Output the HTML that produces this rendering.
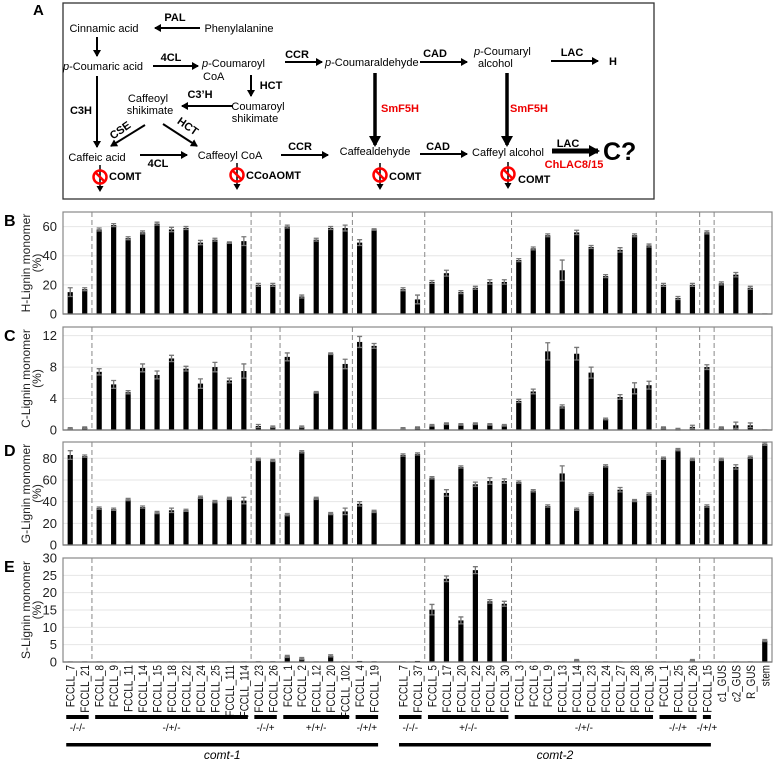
<!DOCTYPE html>
<html><head><meta charset="utf-8"><style>
html,body{margin:0;padding:0;background:#fff;}
svg{display:block;font-family:"Liberation Sans",sans-serif;}
</style></head><body>
<svg id="fig" width="773" height="760" viewBox="0 0 773 760" xmlns="http://www.w3.org/2000/svg">
<defs>
<marker id="ah" markerWidth="8" markerHeight="8" refX="6" refY="4" orient="auto" markerUnits="userSpaceOnUse"><path d="M0,0 L7,4 L0,8 z" fill="#000"/></marker>
<marker id="ahb" markerWidth="12" markerHeight="12" refX="9" refY="6" orient="auto" markerUnits="userSpaceOnUse"><path d="M0,0 L11,6 L0,12 z" fill="#000"/></marker>
</defs>
<g id="diagram" font-size="11">
<text x="33" y="15" font-size="15" font-weight="bold">A</text>
<rect x="63" y="3" width="591" height="196" fill="none" stroke="#333" stroke-width="1.3"/>
<g stroke="#000" stroke-width="2" fill="none">
<line x1="200" y1="28" x2="155" y2="28" marker-end="url(#ah)"/>
<line x1="97" y1="37" x2="97" y2="56" marker-end="url(#ah)"/>
<line x1="153" y1="66" x2="198" y2="66" marker-end="url(#ah)"/>
<line x1="285" y1="62" x2="322" y2="62" marker-end="url(#ah)"/>
<line x1="420" y1="62" x2="467" y2="62" marker-end="url(#ah)"/>
<line x1="551" y1="61" x2="598" y2="61" marker-end="url(#ah)"/>
<line x1="251" y1="75" x2="251" y2="96" marker-end="url(#ah)"/>
<line x1="233" y1="106" x2="182" y2="106" marker-end="url(#ah)"/>
<line x1="97" y1="76" x2="97" y2="147" marker-end="url(#ah)"/>
<line x1="145" y1="125" x2="111" y2="146" marker-end="url(#ah)"/>
<line x1="163" y1="124" x2="197" y2="146" marker-end="url(#ah)"/>
<line x1="140" y1="155" x2="187" y2="155" marker-end="url(#ah)"/>
<line x1="281" y1="155" x2="328" y2="155" marker-end="url(#ah)"/>
<line x1="420" y1="154" x2="467" y2="154" marker-end="url(#ah)"/>
<line x1="375" y1="73" x2="375" y2="145" stroke-width="3.5" marker-end="url(#ahb)"/>
<line x1="507" y1="73" x2="507" y2="145" stroke-width="3.5" marker-end="url(#ahb)"/>
<line x1="552" y1="151" x2="598" y2="151" stroke-width="5" marker-end="url(#ahb)"/>
</g>
<g fill="#000">
<text x="175" y="21" text-anchor="middle" font-weight="bold">PAL</text>
<text x="104" y="32" text-anchor="middle">Cinnamic acid</text>
<text x="239" y="32" text-anchor="middle">Phenylalanine</text>
<text x="103" y="70" text-anchor="middle"><tspan font-style="italic">p</tspan>-Coumaric acid</text>
<text x="171" y="61" text-anchor="middle" font-weight="bold">4CL</text>
<text x="202" y="67"><tspan font-style="italic">p</tspan>-Coumaroyl</text>
<text x="203" y="80">CoA</text>
<text x="297" y="58" text-anchor="middle" font-weight="bold">CCR</text>
<text x="325" y="66"><tspan font-style="italic">p</tspan>-Coumaraldehyde</text>
<text x="435" y="57" text-anchor="middle" font-weight="bold">CAD</text>
<text x="474" y="55"><tspan font-style="italic">p</tspan>-Coumaryl</text>
<text x="478" y="67">alcohol</text>
<text x="572" y="56" text-anchor="middle" font-weight="bold">LAC</text>
<text x="613" y="65" text-anchor="middle" font-weight="bold">H</text>
<text x="271" y="89" text-anchor="middle" font-weight="bold">HCT</text>
<text x="200" y="98" text-anchor="middle" font-weight="bold">C3’H</text>
<text x="148" y="102" text-anchor="middle">Caffeoyl</text>
<text x="150" y="114" text-anchor="middle">shikimate</text>
<text x="258" y="110" text-anchor="middle">Coumaroyl</text>
<text x="255" y="122" text-anchor="middle">shikimate</text>
<text x="81" y="114" text-anchor="middle" font-weight="bold">C3H</text>
<text x="120" y="134" text-anchor="middle" font-weight="bold" transform="rotate(-35 120 130)">CSE</text>
<text x="188" y="130" text-anchor="middle" font-weight="bold" transform="rotate(35 188 126)">HCT</text>
<text x="97" y="161" text-anchor="middle">Caffeic acid</text>
<text x="158" y="167" text-anchor="middle" font-weight="bold">4CL</text>
<text x="230" y="159" text-anchor="middle">Caffeoyl CoA</text>
<text x="300" y="150" text-anchor="middle" font-weight="bold">CCR</text>
<text x="375" y="155" text-anchor="middle">Caffealdehyde</text>
<text x="438" y="150" text-anchor="middle" font-weight="bold">CAD</text>
<text x="508" y="156" text-anchor="middle">Caffeyl alcohol</text>
<text x="381" y="112" fill="#e00" font-weight="bold">SmF5H</text>
<text x="510" y="112" fill="#e00" font-weight="bold">SmF5H</text>
<text x="568" y="147" text-anchor="middle" font-weight="bold">LAC</text>
<text x="574" y="168" text-anchor="middle" fill="#e00" font-weight="bold">ChLAC8/15</text>
<text x="603" y="160" font-size="25" font-weight="bold">C?</text>
</g>
<g id="knock"></g>
</g>
<g id="charts"></g>
</svg>
<script>
// ---- chart data ----
const categories = ["FCCLL_7","FCCLL_21","FCCLL_8","FCCLL_9","FCCLL_11","FCCLL_14","FCCLL_15","FCCLL_18","FCCLL_22","FCCLL_24","FCCLL_25","FCCLL_111","FCCLL_114","FCCLL_23","FCCLL_26","FCCLL_1","FCCLL_2","FCCLL_12","FCCLL_20","FCCLL_102","FCCLL_4","FCCLL_19","","FCCLL_7","FCCLL_37","FCCLL_5","FCCLL_17","FCCLL_20","FCCLL_22","FCCLL_29","FCCLL_30","FCCLL_3","FCCLL_6","FCCLL_9","FCCLL_13","FCCLL_14","FCCLL_23","FCCLL_24","FCCLL_27","FCCLL_28","FCCLL_36","FCCLL_1","FCCLL_25","FCCLL_26","FCCLL_15","c1_GUS","c2_GUS","R_GUS","stem"];
const hValues = [15,17,58,61,52,56,62,58,59,49,51,49,50,20,20,60,12,51,59,59,49,58,null,17,10,22,28,15,18,22,22,37,45,54,30,56,46,26,44,54,47,20,11,20,56,21,27,18,0.4];
const hErr = [3,1,1,1,1,1,1,1.5,1,1.5,1,0.5,3,1,1,1,1,1,1,2,2,0.5,null,1,3,1,2,1,1,1.5,1.5,1,1,1,7,1.5,1,1,1.5,1,1,1,1,1,1,1,1.5,1,0];
const cValues = [0.2,0.3,7.4,5.8,4.8,7.9,7.0,9.1,7.8,5.9,8.0,6.3,7.5,0.5,0.4,9.3,0.4,4.8,9.7,8.4,11.2,10.7,null,0.2,0.3,0.6,0.8,0.7,0.8,0.7,0.6,3.7,4.9,10.0,3.0,9.7,7.3,1.4,4.2,5.3,5.7,0.3,0.1,0.4,8.0,0.3,0.6,0.6,0];
const cErr = [0.1,0.1,0.4,0.5,0.2,0.5,0.5,0.4,0.3,0.6,0.6,0.3,0.9,0.2,0.1,0.5,0.1,0.1,0.1,0.6,0.7,0.3,null,0.1,0.1,0.1,0.1,0.1,0.1,0.1,0.1,0.2,0.3,1.1,0.2,0.8,0.7,0.1,0.3,0.7,0.5,0.1,0.1,0.2,0.3,0.1,0.4,0.3,0];
const gValues = [83,82,34,33,42,35,30,32,32,44,40,43,41,79,78,28,86,43,29,31,38,31,null,83,84,62,48,72,56,59,59,58,50,36,66,33,47,73,51,41,47,80,88,79,36,79,72,81,93];
const gErr = [4,1,1,1,1,1,1,2,1,1,1,1,3,1,1,1,1,1,1,3,2,1,null,1,1,1,3,1,2,3,2,1,1,1,7,1,1,1,2,1,1,1,1,1,1,1,2,1,1];
const sValues = [0,0,0,0,0,0,0,0,0,0,0,0,0,0.2,0.2,1.6,1.0,0,1.8,0,0.3,0.2,null,0,0.3,15.1,24,12,26.5,17.5,16.8,0.2,0,0,0,0.5,0,0,0,0,0,0.1,0.1,0.5,0,0.1,0.1,0,6.2];
const sErr = [0,0,0,0,0,0,0,0,0,0,0,0,0,0,0,0.3,0.3,0,0.3,0,0,0,null,0,0,1.5,0.8,1,1,0.5,0.7,0,0,0,0,0.2,0,0,0,0,0,0,0,0.2,0,0,0,0,0.3];
const hTicks = [0,20,40,60];
const cTicks = [0,4,8,12];
const gTicks = [0,20,40,60,80];
const sTicks = [0,5,10,15,20,25,30];
const boundaryIdx = [2,13,15,20,25,31,41,44,45];
const genoLabels = ["-/-/-","-/+/-","-/-/+","+/+/-","-/+/+","-/-/-","+/-/-","-/+/-","-/-/+","-/+/+"];
const genoStart = [0,2,13,15,20,23,25,31,41,44];
const genoEnd = [1,12,14,19,21,24,30,40,43,44];
const lineLabels = ["comt-1","comt-2"];
const lineStart = [0,23];
const lineEnd = [21,44];

const NS = "http://www.w3.org/2000/svg";
function mk(tag, attrs, parent){const e=document.createElementNS(NS,tag);for(const k in attrs)e.setAttribute(k,attrs[k]);parent.appendChild(e);return e;}
const charts=document.getElementById('charts');
const X0=63,X1=772,N=categories.length,slot=(X1-X0)/N;
function xc(i){return X0+slot*(i+0.5);}
const panels=[
 {key:"h",letter:"B",title:"H-Lignin monomer",top:212,base:314,max:70,vals:hValues,err:hErr,ticks:hTicks},
 {key:"c",letter:"C",title:"C-Lignin monomer",top:327,base:430,max:13.1,vals:cValues,err:cErr,ticks:cTicks},
 {key:"g",letter:"D",title:"G-Lignin monomer",top:442,base:545,max:95,vals:gValues,err:gErr,ticks:gTicks},
 {key:"s",letter:"E",title:"S-Lignin monomer",top:558,base:662,max:30,vals:sValues,err:sErr,ticks:sTicks}];
panels.forEach(p=>{
 const g=mk('g',{},charts);
 
 
 const y=v=>p.base-(v/p.max)*(p.base-p.top);
 p.ticks.forEach(t=>{
  if(t>0){const gl=mk('line',{x1:X0,x2:X1,y1:y(t),y2:y(t),stroke:'#e6e6e6','stroke-width':1},g);
  
  }
  const tl=mk('text',{x:57,y:y(t)+4.5,'text-anchor':'end','font-size':13,fill:'#222'},g);
  tl.textContent=t;
  
  
 });
 const box=mk('rect',{x:X0,y:p.top,width:X1-X0,height:p.base-p.top,fill:'none',stroke:'#888','stroke-width':1.2},g);
 
 
 boundaryIdx.forEach(b=>{
  const dl=mk('line',{x1:X0+slot*b,x2:X0+slot*b,y1:p.top,y2:p.base,stroke:'#888','stroke-width':1,'stroke-dasharray':'5,3'},g);
  
  
 });
 p.vals.forEach((v,i)=>{
  if(v===null)return;
  const h=Math.max(0.6,p.base-y(v));
  const r=mk('rect',{x:xc(i)-2.6,y:p.base-h,width:5.2,height:h,fill:'#000'},g);
  
  
  const e=p.err[i];
  if(e>0){
   const eb=mk('path',{d:`M${xc(i)-2.5},${y(v+e)}h5M${xc(i)},${y(v+e)}V${y(v-e)}M${xc(i)-2.5},${y(v-e)}h5`,stroke:'#777','stroke-width':1.3,fill:'none'},g);
   
   
  }
 });
 mk('line',{x1:X0,x2:X1,y1:p.base,y2:p.base,stroke:'#777','stroke-width':1.2},g);
 const L=mk('text',{x:4,y:p.top+14,'font-size':16,'font-weight':'bold'},g);
 L.textContent=p.letter;
 
 
 const cy=(p.top+p.base)/2;
 const t1=mk('text',{x:0,y:0,'font-size':12,'text-anchor':'middle',fill:'#222',transform:`translate(30,${cy}) rotate(-90)`},g);
 t1.textContent=p.title;
 
 
 const t2=mk('text',{x:0,y:0,'font-size':12,'text-anchor':'middle',fill:'#222',transform:`translate(41,${cy}) rotate(-90)`},g);
 t2.textContent='(%)';
 
 
});
categories.forEach((c,i)=>{
 if(!c)return;
 const t=mk('text',{x:0,y:0,'font-size':12,'text-anchor':'end',fill:'#111',transform:`translate(${xc(i)+4.5},665) rotate(-90) scale(0.82,1)`},charts);
 t.textContent=c;
 
 
});
genoLabels.forEach((lab,k)=>{
 const a=xc(genoStart[k])-4,b=xc(genoEnd[k])+4;
 const r=mk('rect',{x:a,y:715,width:b-a,height:4,fill:'#000'},charts);
 
 
 const t=mk('text',{x:(a+b)/2,y:731,'font-size':10,'text-anchor':'middle'},charts);
 t.textContent=lab;
 
 
});
lineLabels.forEach((lab,k)=>{
 const a=xc(lineStart[k])-4,b=xc(lineEnd[k])+4;
 const r=mk('rect',{x:a,y:743,width:b-a,height:3.5,fill:'#000'},charts);
 
 
 const t=mk('text',{x:(a+b)/2,y:759,'font-size':12,'font-style':'italic','text-anchor':'middle'},charts);
 t.textContent=lab;
 
 
});
// knockout marks in diagram
const kn=document.getElementById('knock');
const kx=[100,237,380,508], ky=[177,175,175,174], kl=["COMT","CCoAOMT","COMT","COMT"], kly=[180,179,180,183];
kx.forEach((x,i)=>{
 const g=mk('g',{},kn);
 
 
 mk('line',{x1:x,y1:ky[i]-12,x2:x,y2:ky[i]+10,stroke:'#000','stroke-width':1.5},g);
 mk('path',{d:`M${x-3.5},${ky[i]+9}L${x+3.5},${ky[i]+9}L${x},${ky[i]+15}z`,fill:'#000'},g);
 mk('circle',{cx:x,cy:ky[i],r:6.5,fill:'none',stroke:'#f00','stroke-width':2.5},g);
 mk('line',{x1:x-4.5,y1:ky[i]-4.5,x2:x+4.5,y2:ky[i]+4.5,stroke:'#f00','stroke-width':2.5},g);
 const t=mk('text',{x:x+(i==3?10:9),y:kly[i],'font-size':11,'font-weight':'bold'},g);
 t.textContent=kl[i];
 
 
});
</script>
</body></html>
